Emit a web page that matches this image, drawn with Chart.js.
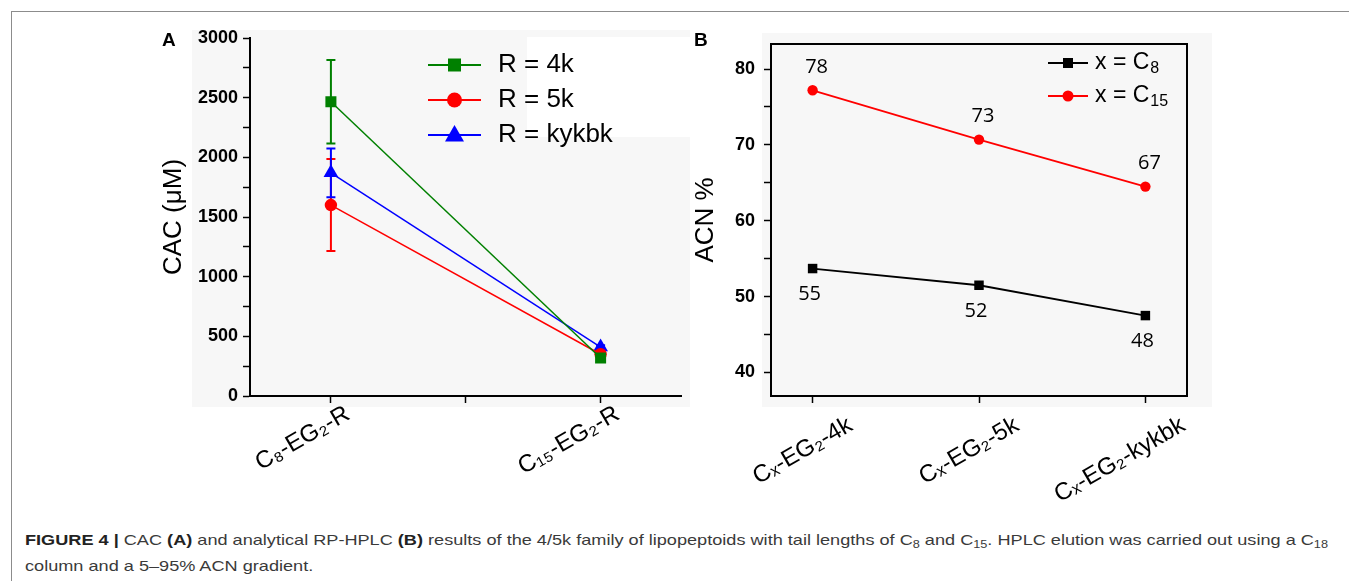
<!DOCTYPE html>
<html>
<head>
<meta charset="utf-8">
<script src="https://cdn.jsdelivr.net/npm/chart.js@4.4.0/dist/chart.umd.min.js"></script>
<style>
  body { margin: 0; background: #fff; width: 1349px; height: 581px; overflow: hidden; position: relative; font-family: "Liberation Sans", Arial, sans-serif; }
  #frame { position: absolute; left: 11px; top: 11px; width: 1400px; height: 600px; border-left: 1px solid #8c8c8c; border-top: 1px solid #8c8c8c; }
  .bg { position: absolute; background: #f7f7f7; }
  .tag { position: absolute; font: bold 19px "Liberation Sans", Arial, sans-serif; color: #000; }
  .box { position: absolute; }
  #caption { position: absolute; left: 25px; top: 527px; font-family: "Liberation Sans", Arial, sans-serif; font-size: 15px; line-height: 26px; color: #3a3a3a; white-space: nowrap; transform-origin: 0 0; }
  #caption span { display: block; }
  #caption b { color: #222; }
  #caption sub { font-size: 0.7em; vertical-align: -0.25em; line-height: 0; }
</style>
</head>
<body>
<div id="frame"></div>
<div class="bg" style="left:192px; top:30px; width:498px; height:377px;"></div>
<div class="bg" style="left:527px; top:37px; width:163px; height:100px; background:#fff;"></div>
<div class="bg" style="left:762px; top:33px; width:450px; height:374px;"></div>

<div class="box" style="left:150px; top:20px;"><canvas id="cacChart" width="540" height="480"></canvas></div>
<div class="box" style="left:690px; top:20px;"><canvas id="acnChart" width="550" height="490"></canvas></div>

<div class="tag" style="left:162px; top:29px;">A</div>
<div class="tag" style="left:694px; top:29px;">B</div>

<div id="caption"><span id="capLine1"><b>FIGURE 4 |</b> CAC <b>(A)</b> and analytical RP-HPLC <b>(B)</b> results of the 4/5k family of lipopeptoids with tail lengths of C<sub>8</sub> and C<sub>15</sub>. HPLC elution was carried out using a C<sub>18</sub></span><span>column and a 5–95% ACN gradient.</span></div>

<script>
// ---- panel A data : CAC ----
const cacLabels = ['C₈-EG₂-R', 'C₁₅-EG₂-R'];
const cacX = [1, 2];
const cacTicksX = [1, 1.5, 2];
const cacTicksY = [0, 250, 500, 750, 1000, 1250, 1500, 1750, 2000, 2250, 2500, 2750, 3000];
const cac4k = [2466, 318];
const cac4kErr = [350, 0];
const cac5k = [1600, 350];
const cac5kErr = [385, 20];
const cacKykbk = [1870, 410];
const cacKykbkErr = [205, 15];

// ---- panel B data : ACN % ----
const acnLabels = ['Cₓ-EG₂-4k', 'Cₓ-EG₂-5k', 'Cₓ-EG₂-kykbk'];
const acnX = [0, 1, 2];
const acnTicksY = [40, 45, 50, 55, 60, 65, 70, 75, 80];
const acnC8 = [53.7, 51.5, 47.5];
const acnC15 = [77.2, 70.7, 64.5];
const acnC8Text = ['55', '52', '48'];
const acnC15Text = ['78', '73', '67'];

// the original caption is stretched sideways; widen the first line to 1303px
const capLine = document.getElementById('capLine1');
const capRange = document.createRange();
capRange.selectNodeContents(capLine);
const capW = capRange.getBoundingClientRect().width;
document.getElementById('caption').style.transform = 'scaleX(' + (1303 / capW) + ')';

const pts = (xs, ys) => xs.map((x, i) => ({ x: x, y: ys[i] }));

function drawMarker(ctx, style, x, y, r, color) {
	ctx.save();
	ctx.fillStyle = color;
	ctx.beginPath();
	if (style === 'rect') {
		ctx.rect(x - r, y - r, 2 * r, 2 * r);
	} else if (style === 'triangle') {
		ctx.moveTo(x, y - r);
		ctx.lineTo(x + r * 0.95, y + r * 0.65);
		ctx.lineTo(x - r * 0.95, y + r * 0.65);
		ctx.closePath();
	} else {
		ctx.arc(x, y, r, 0, Math.PI * 2);
	}
	ctx.fill();
	ctx.restore();
}

// error bars drawn with the chart's own scales
const errorBars = {
	id : 'errorBars',
	beforeDatasetsDraw(chart) {
		const { ctx, scales: { x, y } } = chart;
		chart.data.datasets.forEach(ds => {
			if (!ds.errors) return;
			ctx.save();
			ctx.strokeStyle = ds.borderColor;
			ctx.lineWidth = 2;
			ds.data.forEach((pt, i) => {
				const e = ds.errors[i];
				if (!e) return;
				const px = x.getPixelForValue(pt.x);
				const top = y.getPixelForValue(pt.y + e);
				const bot = y.getPixelForValue(pt.y - e);
				ctx.beginPath();
				ctx.moveTo(px, top); ctx.lineTo(px, bot);
				ctx.moveTo(px - 4.5, top); ctx.lineTo(px + 4.5, top);
				ctx.moveTo(px - 4.5, bot); ctx.lineTo(px + 4.5, bot);
				ctx.stroke();
			});
			ctx.restore();
		});
	}
};

// legend drawn inside the plot
const innerLegend = {
	id : 'innerLegend',
	afterDraw(chart, args, opts) {
		const { ctx, chartArea } = chart;
		ctx.save();
		chart.data.datasets.forEach((ds, i) => {
			const x0 = chartArea.left + opts.x;
			const y0 = chartArea.top + opts.y + i * opts.dy;
			ctx.strokeStyle = ds.borderColor;
			ctx.lineWidth = opts.lineWidth;
			ctx.beginPath();
			ctx.moveTo(x0, y0); ctx.lineTo(x0 + opts.len, y0);
			ctx.stroke();
			drawMarker(ctx, ds.pointStyle, x0 + opts.len / 2, y0, ds.legendMarker, ds.borderColor);
			ctx.fillStyle = '#000';
			ctx.font = opts.size + 'px "Liberation Sans", Arial, sans-serif';
			ctx.textBaseline = 'middle';
			const tx = x0 + opts.len + opts.gap;
			ctx.fillText(ds.label, tx, y0);
			if (ds.labelSub) {
				const w = ctx.measureText(ds.label).width;
				ctx.font = Math.round(opts.size * 0.68) + 'px "Liberation Sans", Arial, sans-serif';
				ctx.fillText(ds.labelSub, tx + w + 1, y0 + opts.size * 0.25);
			}
		});
		ctx.restore();
	}
};

// value labels next to the points
const valueText = {
	id : 'valueText',
	afterDatasetsDraw(chart) {
		const { ctx, scales: { x, y } } = chart;
		ctx.save();
		ctx.fillStyle = '#000';
		ctx.font = '20px "Open Sans", sans-serif';
		ctx.textAlign = 'center';
		ctx.textBaseline = 'middle';
		chart.data.datasets.forEach(ds => {
			if (!ds.valueText) return;
			ds.data.forEach((pt, i) => {
				ctx.fillText(ds.valueText[i], x.getPixelForValue(pt.x) + ds.textDx, y.getPixelForValue(pt.y) + ds.textDy);
			});
		});
		ctx.restore();
	}
};

const boxFrame = {
	id : 'boxFrame',
	afterDraw(chart) {
		const { ctx, chartArea: a } = chart;
		ctx.save();
		ctx.strokeStyle = '#000';
		ctx.lineWidth = 2;
		ctx.strokeRect(a.left, a.top, a.right - a.left, a.bottom - a.top);
		ctx.restore();
	}
};

const tickFontBold = { family: '"Liberation Sans", Arial, sans-serif', size: 18, weight: 'bold' };
const catFont = { family: '"Liberation Sans", Arial, sans-serif', size: 24 };
const axisGrid = { drawOnChartArea: false, tickLength: 7, tickColor: '#000', tickWidth: 1.5 };
const axisBorder = { color: '#000', width: 2 };

//                         //
// - - - - - Panel A - - - //
//                         //

const green = '#008000';
const red = '#ff0000';
const blue = '#0000ff';

let cacChart = new Chart(document.getElementById('cacChart'), {
	type    : 'line',
	data    : {
		datasets : [
			{ label: 'R = 4k', data: pts(cacX, cac4k), errors: cac4kErr, borderColor: green, backgroundColor: green, pointBackgroundColor: green, pointStyle: 'rect', pointRadius: 7.8, legendMarker: 6.5 },
			{ label: 'R = 5k', data: pts(cacX, cac5k), errors: cac5kErr, borderColor: red, backgroundColor: red, pointBackgroundColor: red, pointStyle: 'circle', pointRadius: 6.2, legendMarker: 7.5 },
			{ label: 'R = kykbk', data: pts(cacX, cacKykbk), errors: cacKykbkErr, borderColor: blue, backgroundColor: blue, pointBackgroundColor: blue, pointStyle: 'triangle', pointRadius: 8.5, legendMarker: 10 }
		]
	},
	options : {
		responsive : false,
		animation  : false,
		layout     : { padding: { top: 18, right: 6, left: 0, bottom: 0 } },
		elements   : { line: { borderWidth: 1.5, tension: 0 }, point: { borderWidth: 0, hoverRadius: 0 } },
		plugins    : {
			legend      : { display: false },
			tooltip     : { enabled: false },
			innerLegend : { x: 178, y: 27, dy: 35, len: 53, gap: 17, size: 26, lineWidth: 2 }
		},
		scales     : {
			x : {
				type            : 'linear',
				min             : 0.7,
				max             : 2.3,
				afterBuildTicks : s => { s.ticks = cacTicksX.map(v => ({ value: v })); },
				afterFit        : s => { s.height = 104; },
				ticks           : {
					callback    : v => { const i = cacX.indexOf(v); return i < 0 ? '' : cacLabels[i]; },
					minRotation : 30,
					maxRotation : 30,
					autoSkip    : false,
					font        : catFont,
					color       : '#000',
					padding     : -3,
					labelOffset : 17
				},
				grid            : axisGrid,
				border          : axisBorder
			},
			y : {
				min             : 0,
				max             : 3000,
				afterBuildTicks : s => { s.ticks = cacTicksY.map(v => ({ value: v })); },
				afterFit        : s => { s.width = 100; },
				ticks           : { callback: v => (v % 500 === 0 ? v : ''), font: tickFontBold, color: '#000', padding: 5, autoSkip: false },
				grid            : axisGrid,
				border          : axisBorder,
				title           : { display: true, text: 'CAC (μM)', color: '#000', font: { family: '"Liberation Sans", Arial, sans-serif', size: 26 }, padding: { top: 8, bottom: 0 } }
			}
		}
	},
	plugins : [errorBars, innerLegend]
});

//                         //
// - - - - - Panel B - - - //
//                         //

let acnChart = new Chart(document.getElementById('acnChart'), {
	type    : 'line',
	data    : {
		datasets : [
			{ label: 'x = C', labelSub: '8', data: pts(acnX, acnC8), valueText: acnC8Text, textDx: -3, textDy: 26, borderColor: '#000', backgroundColor: '#000', pointBackgroundColor: '#000', pointStyle: 'rect', pointRadius: 6.7, legendMarker: 5 },
			{ label: 'x = C', labelSub: '15', data: pts(acnX, acnC15), valueText: acnC15Text, textDx: 4, textDy: -23, borderColor: red, backgroundColor: red, pointBackgroundColor: red, pointStyle: 'circle', pointRadius: 5.2, legendMarker: 5.5 }
		]
	},
	options : {
		responsive : false,
		animation  : false,
		layout     : { padding: { top: 24, right: 53, left: 0, bottom: 0 } },
		elements   : { line: { borderWidth: 1.8, tension: 0 }, point: { borderWidth: 0, hoverRadius: 0 } },
		plugins    : {
			legend      : { display: false },
			tooltip     : { enabled: false },
			innerLegend : { x: 277, y: 19, dy: 33, len: 40, gap: 7, size: 23, lineWidth: 2 }
		},
		scales     : {
			x : {
				type            : 'linear',
				min             : -0.25,
				max             : 2.25,
				afterBuildTicks : s => { s.ticks = acnX.map(v => ({ value: v })); },
				afterFit        : s => { s.height = 114; },
				ticks           : {
					callback    : v => acnLabels[acnX.indexOf(v)] || '',
					minRotation : 30,
					maxRotation : 30,
					autoSkip    : false,
					font        : catFont,
					color       : '#000',
					padding     : 8,
					labelOffset : 38
				},
				grid            : axisGrid,
				border          : axisBorder
			},
			y : {
				min             : 36.9,
				max             : 83.3,
				afterBuildTicks : s => { s.ticks = acnTicksY.map(v => ({ value: v })); },
				afterFit        : s => { s.width = 81; },
				ticks           : { callback: v => (v % 10 === 0 ? v : ''), font: tickFontBold, color: '#000', padding: 9, autoSkip: false },
				grid            : axisGrid,
				border          : axisBorder,
				title           : { display: true, text: 'ACN %', color: '#000', font: { family: '"Liberation Sans", Arial, sans-serif', size: 26 }, padding: { top: 0, bottom: 0 } }
			}
		}
	},
	plugins : [boxFrame, valueText, innerLegend]
});
</script>
</body>
</html>
